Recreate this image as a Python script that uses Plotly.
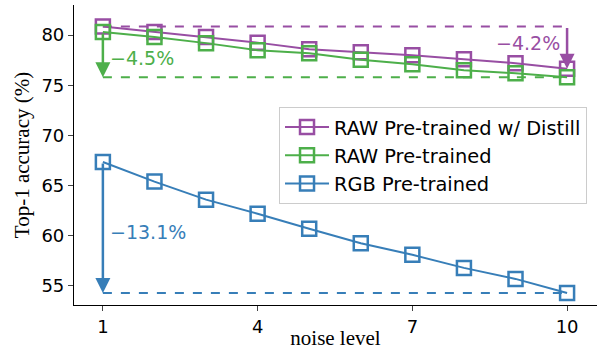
import plotly.graph_objects as go

noise = [1, 2, 3, 4, 5, 6, 7, 8, 9, 10]
raw_distill = [80.85, 80.3, 79.8, 79.25, 78.6, 78.3, 78.0, 77.6, 77.2, 76.65]
raw_pre = [80.3, 79.8, 79.2, 78.5, 78.2, 77.55, 77.1, 76.5, 76.2, 75.8]
rgb_pre = [67.35, 65.4, 63.6, 62.2, 60.7, 59.25, 58.1, 56.8, 55.7, 54.3]
names = ["RAW Pre-trained w/ Distill", "RAW Pre-trained", "RGB Pre-trained"]
colors = ["#984ea3", "#4daf4a", "#377eb8"]
drops = ["−4.2%", "−4.5%", "−13.1%"]
xticks = [1, 4, 7, 10]
yticks = [55, 60, 65, 70, 75, 80]

series = [raw_distill, raw_pre, rgb_pre]

fig = go.Figure()

# dashed reference lines
dash_levels = [raw_distill[0], raw_pre[-1], rgb_pre[-1]]
for lvl, c in zip(dash_levels, colors):
    fig.add_trace(go.Scatter(x=[noise[0], noise[-1]], y=[lvl, lvl], mode="lines",
                             line=dict(color=c, width=2, dash="dash"),
                             showlegend=False, hoverinfo="skip"))

for ys, n, c in zip(series, names, colors):
    fig.add_trace(go.Scatter(x=noise, y=ys, mode="lines+markers", name=n,
                             line=dict(color=c, width=2),
                             marker=dict(symbol="square-open", size=14,
                                         color=c, line=dict(width=2.5, color=c))))

# arrows
arrows = [
    (noise[-1], raw_distill[0], raw_distill[-1], colors[0]),
    (noise[0], raw_pre[0], raw_pre[-1], colors[1]),
    (noise[0], rgb_pre[0], rgb_pre[-1], colors[2]),
]
for x, y0, y1, c in arrows:
    fig.add_annotation(x=x, y=y1, ax=x, ay=y0, xref="x", yref="y", axref="x", ayref="y",
                       showarrow=True, arrowhead=2, arrowsize=1.2, arrowwidth=2.5,
                       arrowcolor=c, text="")

# labels
fig.add_annotation(x=9.9, y=79.2, text=drops[0], showarrow=False, xanchor="right",
                   font=dict(color=colors[0], size=19, family="DejaVu Sans"))
fig.add_annotation(x=1.1, y=77.7, text=drops[1], showarrow=False, xanchor="left",
                   font=dict(color=colors[1], size=19, family="DejaVu Sans"))
fig.add_annotation(x=1.1, y=60.4, text=drops[2], showarrow=False, xanchor="left",
                   font=dict(color=colors[2], size=19, family="DejaVu Sans"))

fig.update_layout(
    width=600, height=350,
    margin=dict(l=74, r=3, t=5, b=45),
    plot_bgcolor="white", paper_bgcolor="white",
    font=dict(family="DejaVu Sans", size=18, color="black"),
    legend=dict(x=0.392, y=0.66, xanchor="left", yanchor="top",
                bgcolor="rgba(255,255,255,0.8)", bordercolor="#cccccc", borderwidth=1,
                font=dict(size=19.4, family="DejaVu Sans"), tracegroupgap=0,
                itemwidth=44),
    xaxis=dict(range=[0.44, 10.58], tickvals=xticks, ticks="outside", ticklen=5,
               showline=True, linecolor="black", linewidth=1.2, showgrid=False, zeroline=False,
               automargin=False,
               title=dict(text="noise level", font=dict(family="Liberation Serif", size=21),
                          standoff=0)),
    yaxis=dict(range=[53.1, 83.0], tickvals=yticks, ticks="outside", ticklen=5,
               showline=True, linecolor="black", linewidth=1.2, showgrid=False, zeroline=False,
               automargin=False,
               title=dict(text="Top-1 accuracy (%)", font=dict(family="Liberation Serif", size=21),
                          standoff=6)),
)

fig.write_html("out.html")
